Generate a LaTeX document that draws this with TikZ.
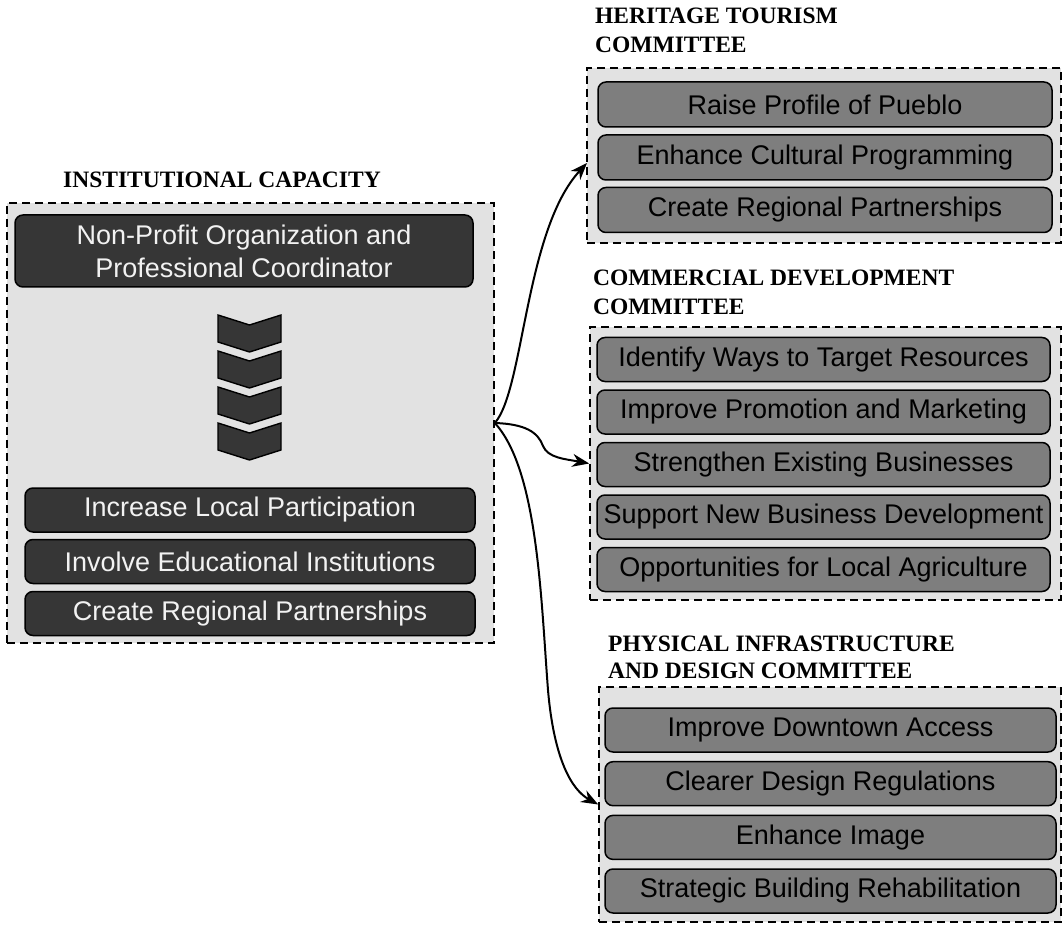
\documentclass[tikz,border=0pt]{standalone}
\usepackage{fontspec}
\setmainfont{Liberation Serif}
\newfontfamily\labelsans{Liberation Sans}
\usetikzlibrary{arrows.meta}
\definecolor{panelfill}{HTML}{E2E2E2}
\definecolor{darkfill}{HTML}{363636}
\definecolor{midfill}{HTML}{7E7E7E}
\definecolor{lighttext}{HTML}{F2F2F2}
\begin{document}
\begin{tikzpicture}[x=1pt,y=-1pt,
  panel/.style={draw=black, dash pattern=on 8pt off 5pt, line width=1.6pt, fill=panelfill, inner sep=0pt},
  head/.style={font=\fontsize{23.5}{29}\selectfont\bfseries, align=left, inner sep=0pt},
  darkbox/.style={draw=black, line width=1.5pt, rounded corners=8pt, fill=darkfill, text=lighttext,
    font=\labelsans\fontsize{27}{33}\selectfont, inner sep=0pt, align=center},
  midbox/.style={draw=black, line width=1.5pt, rounded corners=8pt, fill=midfill, text=black,
    font=\labelsans\fontsize{27}{31}\selectfont, inner sep=0pt},
  chevron/.style={draw=black, line width=1.4pt, fill=darkfill, line join=miter},
  flow/.style={-{Stealth[length=17pt,width=13pt]}, line width=2pt, draw=black}
]
\useasboundingbox (0,0) rectangle (1063,925);

% ---- dashed group panels ----
\node[panel, minimum width=487, minimum height=440] (lp) at (250.5,423) {};
\node[panel, minimum width=474, minimum height=175] (hp) at (824,155.5) {};
\node[panel, minimum width=471, minimum height=273] (cp) at (825.5,463.5) {};
\node[panel, minimum width=462, minimum height=235] (pp) at (830,804.5) {};

% ---- group headings ----
\node[head, anchor=base] (ht) at (222,188) {INSTITUTIONAL CAPACITY};
\node[head, anchor=north west] (hh) at (595,8) {HERITAGE TOURISM\\COMMITTEE};
\node[head, anchor=north west] (ch) at (593,270) {COMMERCIAL DEVELOPMENT\\COMMITTEE};
\node[head, anchor=north west, font=\fontsize{23.5}{27}\selectfont\bfseries] (ph) at (608,636)
  {PHYSICAL INFRASTRUCTURE\\AND DESIGN COMMITTEE};

% ---- institutional capacity ----
\node[darkbox, minimum width=458, minimum height=72] (np) at (244,251)
  {Non-Profit Organization and\\Professional Coordinator};
\foreach \t in {315,351,387,423}{
  \draw[chevron] (218,\t) -- (249.5,\t+10) -- (281,\t) -- (281,\t+27)
    -- (249.5,\t+37) -- (218,\t+27) -- cycle;
}
\node[darkbox, minimum width=450, minimum height=44] (ilp) at (250,510) {Increase Local Participation};
\node[darkbox, minimum width=450, minimum height=44] (iei) at (250,561.5) {Involve Educational Institutions};
\node[darkbox, minimum width=450, minimum height=44] (crp) at (250,613.5) {Create Regional Partnerships};

% ---- heritage tourism ----
\node[midbox, minimum width=454, minimum height=45] (h1) at (825,104.5) {Raise Profile of Pueblo};
\node[midbox, minimum width=454, minimum height=45] (h2) at (825,157.5) {Enhance Cultural Programming};
\node[midbox, minimum width=454, minimum height=45] (h3) at (825,210) {Create Regional Partnerships};

% ---- commercial development ----
\node[midbox, minimum width=453, minimum height=44] (c1) at (823.5,359.5) {Identify Ways to Target Resources};
\node[midbox, minimum width=453, minimum height=44] (c2) at (823.5,412) {Improve Promotion and Marketing};
\node[midbox, minimum width=453, minimum height=44] (c3) at (823.5,464.5) {Strengthen Existing Businesses};
\node[midbox, minimum width=453, minimum height=44] (c4) at (823.5,517) {Support New Business Development};
\node[midbox, minimum width=453, minimum height=44] (c5) at (823.5,569.5) {Opportunities for Local Agriculture};

% ---- physical infrastructure ----
\node[midbox, minimum width=451, minimum height=44] (p1) at (830.5,730) {Improve Downtown Access};
\node[midbox, minimum width=451, minimum height=44] (p2) at (830.5,783.7) {Clearer Design Regulations};
\node[midbox, minimum width=451, minimum height=44] (p3) at (830.5,837.4) {Enhance Image};
\node[midbox, minimum width=451, minimum height=44] (p4) at (830.5,891) {Strategic Building Rehabilitation};

% ---- connectors ----
\coordinate (hTip) at (587,163);
\draw[flow] (lp.east) .. controls (524,390) and (525,230) .. (hTip);
\draw[flow] (lp.east) .. controls (525,424) and (538,432) .. (543,446)
  .. controls (548,458) and (565,459) .. (cp.west);
\draw[flow] (lp.east) .. controls (538,470) and (541,600) .. (548,690)
  .. controls (554,760) and (572,790) .. (pp.west);
\end{tikzpicture}
\end{document}
